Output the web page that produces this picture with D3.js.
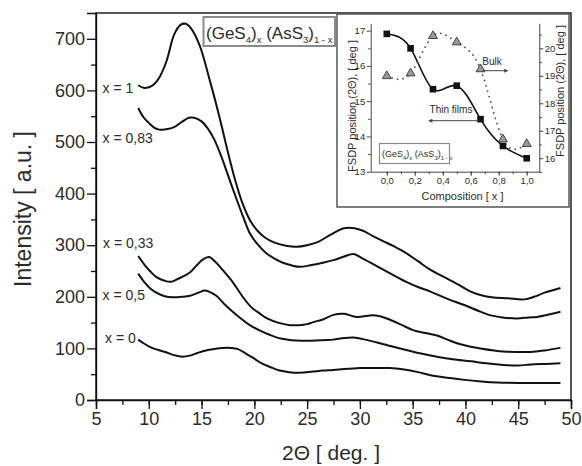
<!DOCTYPE html>
<html><head><meta charset="utf-8">
<script src="https://cdn.jsdelivr.net/npm/d3@7"></script>
<style>
body{margin:0;background:#fff;}
svg{display:block;font-family:"Liberation Sans",Arial,sans-serif;}
</style></head>
<body>
<svg id="chart" width="582" height="466"></svg>
<script>
// ---------- main chart data (2Θ in deg., intensity in a.u.) ----------
const seriesNames = ["x = 1", "x = 0,83", "x = 0,33", "x = 0,5", "x = 0"];
const curveX1 = [[9.0,610],[9.5,605],[10.0,606],[10.5,612],[11.0,625],[11.7,658],[12.4,708],[13.0,727],[13.5,729],[14.0,720],[14.8,688],[15.8,618],[16.7,548],[17.5,480],[18.2,425],[18.9,380],[19.6,348],[20.3,328],[21.0,315],[21.8,306],[23.0,299],[24.0,297],[25.0,300],[26.0,306],[27.2,320],[28.5,333],[29.5,333],[30.3,328],[31.2,318],[32.2,308],[33.2,298],[34.2,287],[35.5,269],[36.7,252],[38.0,238],[39.3,224],[40.5,210],[41.5,203],[42.5,199],[44.0,197],[45.6,195],[46.5,200],[47.5,208],[49.0,217]];
const curveX083 = [[9.0,566],[9.5,548],[10.0,537],[10.5,528],[11.0,524],[11.8,525],[12.5,530],[13.2,540],[13.8,547],[14.3,547],[15.0,540],[15.6,526],[16.2,505],[17.0,465],[17.6,430],[18.3,390],[19.0,352],[19.6,322],[20.3,302],[21.1,285],[22.0,273],[22.7,266],[23.5,261],[24.3,258],[25.3,261],[26.5,266],[27.5,271],[28.5,278],[29.4,283],[30.2,275],[31.0,266],[31.9,256],[33.0,244],[34.4,229],[35.5,219],[36.7,210],[38.3,196],[39.9,184],[41.2,173],[42.4,164],[43.5,160],[44.9,158],[46.0,160],[46.8,161],[48.0,166],[49.0,171]];
const curveX033 = [[9.0,279],[9.6,262],[10.2,248],[10.8,237],[11.5,231],[12.1,229],[12.7,234],[13.3,240],[13.9,247],[14.5,260],[15.1,272],[15.7,277],[16.3,268],[17.0,252],[17.9,230],[18.9,200],[19.7,180],[20.5,168],[21.2,158],[22.4,149],[23.4,145],[24.2,145],[25.0,147],[25.6,151],[26.5,156],[27.5,165],[28.5,167],[29.7,161],[31.0,164],[32.0,162],[32.9,155],[34.0,145],[35.1,135],[36.2,130],[37.3,125],[38.3,117],[39.2,110],[40.3,104],[41.4,100],[43.6,94],[45.0,93],[46.2,93],[47.5,96],[49.0,101]];
const curveX05 = [[9.0,245],[9.6,228],[10.2,215],[10.8,207],[11.5,201],[12.3,199],[13.1,200],[13.9,202],[14.7,208],[15.3,212],[15.8,209],[16.4,202],[17.2,185],[17.9,172],[18.6,160],[19.5,146],[20.5,135],[21.5,126],[22.5,119],[23.5,116],[24.5,115],[25.3,115],[26.5,116],[27.5,117],[28.5,120],[29.4,121],[30.5,117],[31.9,110],[33.0,104],[34.4,97],[35.8,90],[37.3,84],[38.8,79],[40.5,75],[42.0,71],[43.6,68],[45.0,67],[46.2,69],[47.5,70],[49.0,71]];
const curveX0 = [[9.0,117],[9.5,110],[10.2,102],[10.9,97],[11.7,92],[12.4,87],[13.2,84],[13.9,86],[14.6,91],[15.4,96],[16.2,99],[17.0,101],[17.8,101],[18.4,99],[19.2,90],[20.0,80],[20.7,71],[21.5,64],[22.4,57],[23.3,54],[24.3,53],[25.5,55],[26.5,57],[27.5,58],[28.5,60],[30.0,62],[31.5,62],[32.8,62],[34.2,59],[35.5,54],[36.7,48],[38.3,43],[39.9,39],[41.5,36],[43.0,34],[45.0,33],[47.0,33],[49.0,33]];
const mainCurves = [curveX1, curveX083, curveX033, curveX05, curveX0];
const xTicks = [5,10,15,20,25,30,35,40,45,50];
const yTicks = [0,100,200,300,400,500,600,700];

// ---------- inset data ----------
const composition = [0, 0.17, 0.33, 0.5, 0.67, 0.83, 1.0];
const thinFilms = [16.91, 16.50, 15.34, 15.44, 14.49, 13.73, 13.38];   // left axis
const bulk = [18.99, 19.09, 20.45, 20.22, 19.24, 16.69, 16.52];        // right axis
const insetXTicks = [0, 0.2, 0.4, 0.6, 0.8, 1.0];
const insetLeftTicks = [13, 14, 15, 16, 17];
const insetRightTicks = [16, 17, 18, 19, 20];

const svg = d3.select("#chart");
const txt = "#2b2b2b";

// ---------- main scales ----------
const M = {l:96, r:571, t:13, b:400};
const x = d3.scaleLinear().domain([5,50]).range([M.l, M.r]);
const y = d3.scaleLinear().domain([0,750]).range([M.b, M.t]);

// frame
svg.append("rect").attr("x",M.l).attr("y",M.t).attr("width",M.r-M.l).attr("height",M.b-M.t)
  .attr("fill","none").attr("stroke","#111").attr("stroke-width",1.4);

const gx = svg.append("g").attr("transform",`translate(0,${M.b})`);
gx.call(d3.axisBottom(x).tickValues(d3.range(5,50.01,2.5)).tickSize(5).tickFormat(""))
  .call(g=>g.select(".domain").remove());
gx.append("g").call(d3.axisBottom(x).tickValues(xTicks).tickSize(9).tickPadding(3).tickFormat(d3.format("d")))
  .call(g=>g.select(".domain").attr("stroke","#111").attr("stroke-width",1.4))
  .call(g=>g.selectAll("text").attr("font-size",18).attr("fill",txt).attr("font-family","Liberation Sans, Arial"));
gx.selectAll("line").attr("stroke","#111").attr("stroke-width",1.3);

const gy = svg.append("g").attr("transform",`translate(${M.l},0)`);
gy.call(d3.axisLeft(y).tickValues(d3.range(50,750,100)).tickSize(5).tickFormat(""))
  .call(g=>g.select(".domain").remove());
gy.append("g").call(d3.axisLeft(y).tickValues(yTicks).tickSize(9).tickPadding(2).tickFormat(d3.format("d")))
  .call(g=>g.select(".domain").attr("stroke","#111").attr("stroke-width",1.4))
  .call(g=>g.selectAll("text").attr("font-size",18).attr("fill",txt).attr("font-family","Liberation Sans, Arial"));
gy.selectAll("line").attr("stroke","#111").attr("stroke-width",1.3);

// axis titles
svg.append("text").attr("transform",`translate(31,209) rotate(-90)`).attr("text-anchor","middle")
  .attr("font-size",23).attr("fill",txt).text("Intensity  [ a.u. ]");
svg.append("text").attr("x",331).attr("y",460).attr("text-anchor","middle")
  .attr("font-size",21).attr("fill",txt).text("2\u0398 [ deg. ]");

// curves
const line = d3.line().x(d=>x(d[0])).y(d=>y(d[1])).curve(d3.curveCatmullRom.alpha(0.5));
svg.append("g").selectAll("path").data(mainCurves).join("path")
  .attr("d",line).attr("fill","none").attr("stroke","#111").attr("stroke-width",2)
  .attr("stroke-linejoin","round");

// curve labels
const labelPos = [[102.5,88],[102.5,138],[103,243],[102.5,295],[105,338]];
svg.append("g").selectAll("text").data(seriesNames).join("text")
  .attr("x",(d,i)=>labelPos[i][0]).attr("y",(d,i)=>labelPos[i][1]).attr("dy","0.35em")
  .attr("font-size",14).attr("fill",txt).text(d=>d);

// title box
svg.append("rect").attr("x",203.5).attr("y",17).attr("width",131.5).attr("height",29)
  .attr("fill","#fff").attr("stroke","#8a8a8a").attr("stroke-width",2);
function formula(sel, xx, yy, big, small, sub){
  const t = sel.append("text").attr("x",xx).attr("y",yy).attr("font-size",big).attr("fill",txt);
  t.append("tspan").text("(GeS");
  t.append("tspan").attr("font-size",small).attr("dy",sub).text("4");
  t.append("tspan").attr("dy",-sub).text(")");
  t.append("tspan").attr("font-size",small).attr("dy",sub).text("x");
  t.append("tspan").attr("dy",-sub).text(" (AsS");
  t.append("tspan").attr("font-size",small).attr("dy",sub).text("3");
  t.append("tspan").attr("dy",-sub).text(")");
  t.append("tspan").attr("font-size",small).attr("dy",sub).text("1 - x");
  return t;
}
formula(svg, 206, 38.5, 17, 9.5, 4);

// ---------- inset ----------
svg.append("rect").attr("x",337).attr("y",14).attr("width",232).attr("height",193)
  .attr("fill","#fff").attr("stroke","#555").attr("stroke-width",1.5);
const I = {l:370.7, r:539.3, t:23.3, b:171.7};
const ix = d3.scaleLinear().domain([-0.115,1.09]).range([I.l, I.r]);
const iyL = d3.scaleLinear().domain([13,17.21]).range([I.b, I.t]);
const iyR = d3.scaleLinear().domain([15.51,20.91]).range([I.b, I.t]);
const axCol = "#444";
function styleAxis(g, fs){
  g.selectAll("line,path").attr("stroke",axCol).attr("stroke-width",1);
  g.selectAll("text").attr("font-size",fs).attr("fill",txt).attr("font-family","Liberation Sans, Arial");
}
const ig = svg.append("g");
ig.append("g").attr("transform",`translate(0,${I.b})`)
  .call(d3.axisBottom(ix).tickValues(d3.range(0,1.01,0.1)).tickSize(2.5).tickFormat(""))
  .call(g=>g.select(".domain").remove()).call(g=>styleAxis(g,9.5));
ig.append("g").attr("transform",`translate(0,${I.b})`)
  .call(d3.axisBottom(ix).tickValues(insetXTicks).tickSize(4).tickSizeOuter(0).tickPadding(2)
    .tickFormat(d=>d3.format(".1f")(d).replace(".",",")))
  .call(g=>styleAxis(g,9.5));
ig.append("g").attr("transform",`translate(${I.l},0)`)
  .call(d3.axisLeft(iyL).tickValues(d3.range(13.5,17,1)).tickSize(2.5).tickFormat(""))
  .call(g=>g.select(".domain").remove()).call(g=>styleAxis(g,9.5));
ig.append("g").attr("transform",`translate(${I.l},0)`)
  .call(d3.axisLeft(iyL).tickValues(insetLeftTicks).tickSize(4).tickSizeOuter(0).tickPadding(1.5).tickFormat(d3.format("d")))
  .call(g=>styleAxis(g,9.5));
ig.append("g").attr("transform",`translate(${I.r},0)`)
  .call(d3.axisRight(iyR).tickValues([15.5,16.5,17.5,18.5,19.5,20.5]).tickSize(2.5).tickFormat(""))
  .call(g=>g.select(".domain").remove()).call(g=>styleAxis(g,9.5));
ig.append("g").attr("transform",`translate(${I.r},0)`)
  .call(d3.axisRight(iyR).tickValues(insetRightTicks).tickSize(4).tickSizeOuter(0).tickPadding(1.5).tickFormat(d3.format("d")))
  .call(g=>styleAxis(g,9.5));

// inset axis titles
ig.append("text").attr("transform","translate(356,106) rotate(-90)").attr("text-anchor","middle")
  .attr("font-size",11).attr("fill",txt).text("FSDP position (2\u0398), [ deg ]");
ig.append("text").attr("transform","translate(564,91) rotate(-90)").attr("text-anchor","middle")
  .attr("font-size",11).attr("fill",txt).text("FSDP position (2\u0398), [ deg ]");
ig.append("text").attr("x",462.5).attr("y",200).attr("text-anchor","middle")
  .attr("font-size",11).attr("fill",txt).text("Composition  [ x ]");

// inset curves
const thinPts = composition.map((c,i)=>[c,thinFilms[i]]);
const bulkPts = composition.map((c,i)=>[c,bulk[i]]);
ig.append("path").datum(thinPts)
  .attr("d",d3.line().x(d=>ix(d[0])).y(d=>iyL(d[1])).curve(d3.curveNatural))
  .attr("fill","none").attr("stroke","#111").attr("stroke-width",1.6);
ig.append("path").datum(bulkPts)
  .attr("d",d3.line().x(d=>ix(d[0])).y(d=>iyR(d[1])).curve(d3.curveNatural))
  .attr("fill","none").attr("stroke","#555").attr("stroke-width",1.8)
  .attr("stroke-dasharray","0.1 5.5").attr("stroke-linecap","round");
ig.selectAll("rect.sq").data(thinPts).join("rect").attr("class","sq")
  .attr("x",d=>ix(d[0])-3.3).attr("y",d=>iyL(d[1])-3.3).attr("width",6.6).attr("height",6.6)
  .attr("fill","#111");
const tri = d3.symbol().type(d3.symbolTriangle).size(34);
ig.selectAll("path.tri").data(bulkPts).join("path").attr("class","tri")
  .attr("transform",d=>`translate(${ix(d[0])},${iyR(d[1])})`).attr("d",tri)
  .attr("fill","#9a9a9a").attr("stroke","#333").attr("stroke-width",0.9);

// arrows
const defs = svg.append("defs");
defs.append("marker").attr("id","ah").attr("viewBox","0 0 10 10").attr("refX",9).attr("refY",5)
  .attr("markerWidth",5).attr("markerHeight",4).attr("orient","auto-start-reverse")
  .append("path").attr("d","M0,0 L10,5 L0,10 z").attr("fill","#444");
ig.append("line").attr("x1",ix(0.67)+2).attr("x2",ix(0.865)).attr("y1",70.7).attr("y2",70.7)
  .attr("stroke","#444").attr("stroke-width",1).attr("marker-end","url(#ah)");
ig.append("text").attr("x",492).attr("y",65).attr("text-anchor","middle").attr("font-size",10)
  .attr("fill",txt).text("Bulk");
ig.append("line").attr("x1",ix(0.67)-2).attr("x2",ix(0.3)).attr("y1",120.7).attr("y2",120.7)
  .attr("stroke","#444").attr("stroke-width",1).attr("marker-end","url(#ah)");
ig.append("text").attr("x",451).attr("y",113).attr("text-anchor","middle").attr("font-size",10)
  .attr("fill",txt).text("Thin films");

// inset legend box
ig.append("rect").attr("x",379.5).attr("y",143.5).attr("width",70).attr("height",20)
  .attr("fill","#fff").attr("stroke","#8a8a8a").attr("stroke-width",1.2);
formula(ig, 382, 157, 9, 6, 2.5);
</script>
</body></html>
